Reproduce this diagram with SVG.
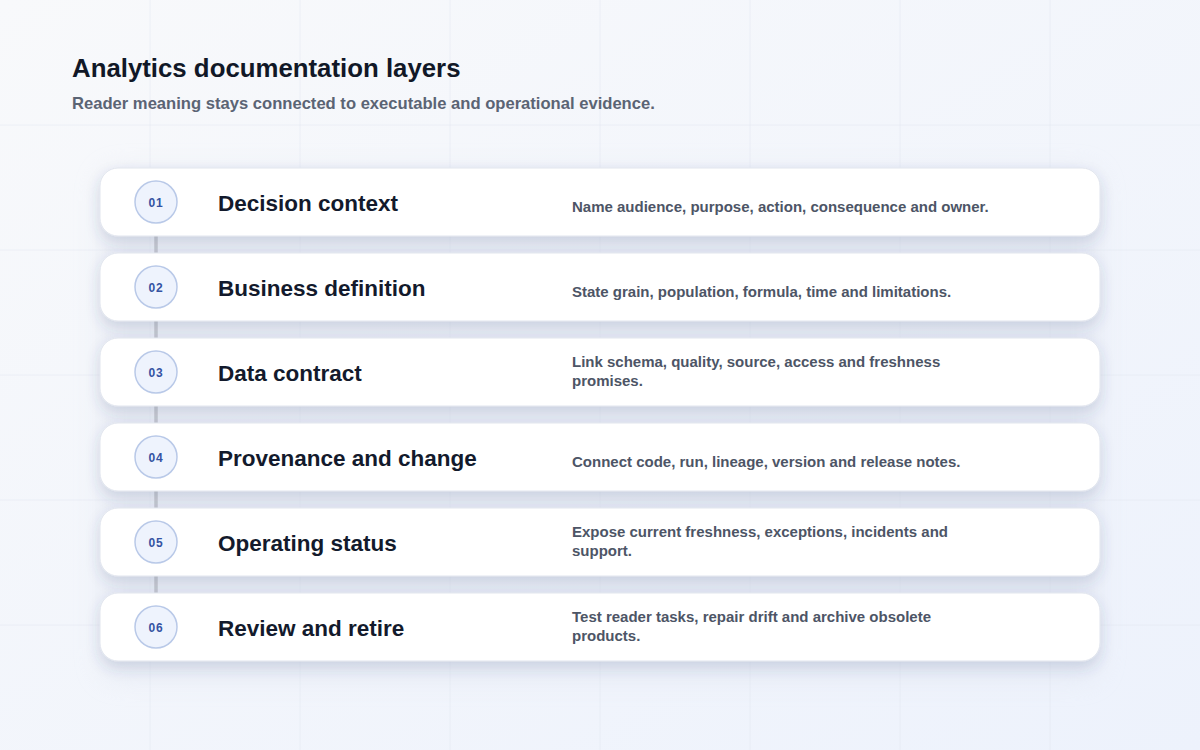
<svg xmlns="http://www.w3.org/2000/svg" width="1200" height="750" viewBox="0 0 1200 750">
<defs>
<linearGradient id="bg" x1="0" y1="0" x2="1" y2="1">
<stop offset="0" stop-color="#f8f9fb"/>
<stop offset="1" stop-color="#edf2fc"/>
</linearGradient>
<filter id="cardShadow" x="-10%" y="-40%" width="120%" height="200%">
<feGaussianBlur in="SourceAlpha" stdDeviation="7"/>
<feOffset dy="6" result="b"/>
<feFlood flood-color="#3a4a78" flood-opacity="0.16"/>
<feComposite in2="b" operator="in"/>
<feMerge><feMergeNode/><feMergeNode in="SourceGraphic"/></feMerge>
</filter>
<filter id="panelShadow" x="-10%" y="-10%" width="120%" height="120%">
<feGaussianBlur stdDeviation="12"/>
</filter>
<style>
.grid{stroke:#dfe4ee;stroke-width:1;opacity:0.45}
.card{fill:#ffffff;stroke:#e1e5ee;stroke-width:1}
.badge{fill:#eef3fd;stroke:#b9c9e8;stroke-width:1.5}
.num{font-family:"Liberation Sans",Arial,sans-serif;font-weight:700;font-size:12px;fill:#3553a3;letter-spacing:0.8px;text-anchor:middle}
.ttl{font-family:"Liberation Sans",Arial,sans-serif;font-weight:700;font-size:22.5px;fill:#131a2c}
.dsc{font-family:"Liberation Sans",Arial,sans-serif;font-weight:700;font-size:15px;fill:#4d5566}
.link{stroke:#c4c7cf;stroke-width:3.5}
</style>
</defs>
<rect width="1200" height="750" fill="url(#bg)"/>
<g id="grid">
<line class="grid" x1="150" y1="0" x2="150" y2="750"/>
<line class="grid" x1="300" y1="0" x2="300" y2="750"/>
<line class="grid" x1="450" y1="0" x2="450" y2="750"/>
<line class="grid" x1="600" y1="0" x2="600" y2="750"/>
<line class="grid" x1="750" y1="0" x2="750" y2="750"/>
<line class="grid" x1="900" y1="0" x2="900" y2="750"/>
<line class="grid" x1="1050" y1="0" x2="1050" y2="750"/>
<line class="grid" x1="0" y1="125" x2="1200" y2="125"/>
<line class="grid" x1="0" y1="250" x2="1200" y2="250"/>
<line class="grid" x1="0" y1="375" x2="1200" y2="375"/>
<line class="grid" x1="0" y1="500" x2="1200" y2="500"/>
<line class="grid" x1="0" y1="625" x2="1200" y2="625"/>
</g>
<rect x="100" y="170" width="1000" height="510" rx="20" fill="#dde2ee" opacity="0.5" filter="url(#panelShadow)"/>
<g id="title">
<text x="72" y="77" font-family="Liberation Sans, Arial, sans-serif" font-weight="700" font-size="25.8" fill="#111827">Analytics documentation layers</text>
<text x="72" y="109" font-family="Liberation Sans, Arial, sans-serif" font-weight="700" font-size="16.6" fill="#5b6474">Reader meaning stays connected to executable and operational evidence.</text>
</g>
<g id="connectors">
<line class="link" x1="156" y1="236" x2="156" y2="253"/>
<line class="link" x1="156" y1="321" x2="156" y2="338"/>
<line class="link" x1="156" y1="406" x2="156" y2="423"/>
<line class="link" x1="156" y1="491" x2="156" y2="508"/>
<line class="link" x1="156" y1="576" x2="156" y2="593"/>
</g>
<g id="layer-01">
<rect class="card" x="100" y="168" width="1000" height="68" rx="18" filter="url(#cardShadow)"/>
<circle class="badge" cx="156" cy="202" r="21"/>
<text class="num" x="156" y="206.5">01</text>
<text class="ttl" x="218" y="211">Decision context</text>
<text class="dsc" x="572" y="212">Name audience, purpose, action, consequence and owner.</text>
</g>
<g id="layer-02">
<rect class="card" x="100" y="253" width="1000" height="68" rx="18" filter="url(#cardShadow)"/>
<circle class="badge" cx="156" cy="287" r="21"/>
<text class="num" x="156" y="291.5">02</text>
<text class="ttl" x="218" y="296">Business definition</text>
<text class="dsc" x="572" y="297">State grain, population, formula, time and limitations.</text>
</g>
<g id="layer-03">
<rect class="card" x="100" y="338" width="1000" height="68" rx="18" filter="url(#cardShadow)"/>
<circle class="badge" cx="156" cy="372" r="21"/>
<text class="num" x="156" y="376.5">03</text>
<text class="ttl" x="218" y="381">Data contract</text>
<text class="dsc" x="572" y="367">Link schema, quality, source, access and freshness</text>
<text class="dsc" x="572" y="386">promises.</text>
</g>
<g id="layer-04">
<rect class="card" x="100" y="423" width="1000" height="68" rx="18" filter="url(#cardShadow)"/>
<circle class="badge" cx="156" cy="457" r="21"/>
<text class="num" x="156" y="461.5">04</text>
<text class="ttl" x="218" y="466">Provenance and change</text>
<text class="dsc" x="572" y="467">Connect code, run, lineage, version and release notes.</text>
</g>
<g id="layer-05">
<rect class="card" x="100" y="508" width="1000" height="68" rx="18" filter="url(#cardShadow)"/>
<circle class="badge" cx="156" cy="542" r="21"/>
<text class="num" x="156" y="546.5">05</text>
<text class="ttl" x="218" y="551">Operating status</text>
<text class="dsc" x="572" y="537">Expose current freshness, exceptions, incidents and</text>
<text class="dsc" x="572" y="556">support.</text>
</g>
<g id="layer-06">
<rect class="card" x="100" y="593" width="1000" height="68" rx="18" filter="url(#cardShadow)"/>
<circle class="badge" cx="156" cy="627" r="21"/>
<text class="num" x="156" y="631.5">06</text>
<text class="ttl" x="218" y="636">Review and retire</text>
<text class="dsc" x="572" y="622">Test reader tasks, repair drift and archive obsolete</text>
<text class="dsc" x="572" y="641">products.</text>
</g>
</svg>
